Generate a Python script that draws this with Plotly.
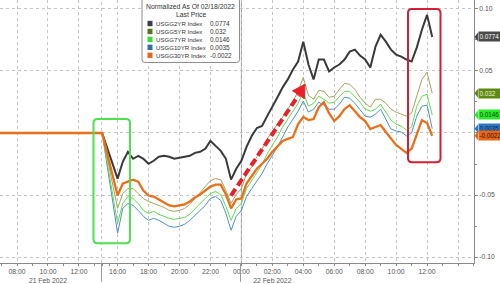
import plotly.graph_objects as go
import pandas as pd

# ---------------- data ----------------
flat_times = ["2022-02-21 06:50", "2022-02-21 13:29", "2022-02-21 15:00"]   # holiday: unchanged vs 02/18
trade_times = pd.date_range("2022-02-21 16:00", periods=62, freq="20min")

series_names = ["USGG2YR Index", "USGG5YR Index", "USGG7YR Index", "USGG10YR Index", "USGG30YR Index"]
last_prices = ["0.0774", "0.032", "0.0146", "0.0035", "-0.0022"]

usgg2 = [-0.0368, -0.0232, -0.0152, -0.0208, -0.0184, -0.0208, -0.0248, -0.0224, -0.0192, -0.0184,
         -0.0192, -0.0208, -0.0200, -0.0192, -0.0184, -0.0160, -0.0152, -0.0128, -0.0064, -0.0104,
         -0.0144, -0.0208, -0.0376, -0.0288, -0.0224, -0.0112, -0.0024, 0.0040, 0.0056, 0.0136,
         0.0208, 0.0288, 0.0368, 0.0432, 0.0512, 0.0576, 0.0736, 0.0552, 0.0432, 0.0592,
         0.0592, 0.0496, 0.0528, 0.0552, 0.0592, 0.0656, 0.0672, 0.0624, 0.0592, 0.0528,
         0.0696, 0.0792, 0.0736, 0.0672, 0.0632, 0.0616, 0.0592, 0.0576, 0.0688, 0.0832,
         0.0952, 0.0774]
usgg5 = [-0.0608, -0.0488, -0.0448, -0.0448, -0.0488, -0.0528, -0.0552, -0.0568, -0.0584, -0.0600,
         -0.0624, -0.0632, -0.0624, -0.0608, -0.0576, -0.0528, -0.0488, -0.0432, -0.0384, -0.0368,
         -0.0376, -0.0464, -0.0568, -0.0496, -0.0448, -0.0328, -0.0272, -0.0192, -0.0128, -0.0048,
         0.0016, 0.0072, 0.0128, 0.0192, 0.0256, 0.0336, 0.0448, 0.0304, 0.0272, 0.0344,
         0.0336, 0.0288, 0.0296, 0.0352, 0.0400, 0.0392, 0.0352, 0.0288, 0.0240, 0.0208,
         0.0272, 0.0272, 0.0240, 0.0192, 0.0168, 0.0152, 0.0136, 0.0160, 0.0296, 0.0432,
         0.0488, 0.0320]
usgg7 = [-0.0728, -0.0568, -0.0512, -0.0528, -0.0568, -0.0624, -0.0648, -0.0632, -0.0656, -0.0672,
         -0.0688, -0.0696, -0.0688, -0.0680, -0.0656, -0.0608, -0.0568, -0.0528, -0.0488, -0.0472,
         -0.0496, -0.0592, -0.0704, -0.0608, -0.0568, -0.0448, -0.0384, -0.0328, -0.0256, -0.0168,
         -0.0104, -0.0032, 0.0048, 0.0112, 0.0176, 0.0240, 0.0328, 0.0216, 0.0240, 0.0296,
         0.0272, 0.0240, 0.0248, 0.0288, 0.0336, 0.0336, 0.0296, 0.0248, 0.0192, 0.0176,
         0.0192, 0.0232, 0.0168, 0.0104, 0.0072, 0.0056, 0.0024, 0.0048, 0.0216, 0.0296,
         0.0312, 0.0146]
usgg10 = [-0.0808, -0.0608, -0.0568, -0.0584, -0.0624, -0.0672, -0.0704, -0.0688, -0.0704, -0.0728,
          -0.0752, -0.0760, -0.0752, -0.0736, -0.0704, -0.0664, -0.0624, -0.0584, -0.0528, -0.0512,
          -0.0544, -0.0648, -0.0784, -0.0672, -0.0624, -0.0512, -0.0448, -0.0384, -0.0328, -0.0248,
          -0.0184, -0.0112, -0.0032, 0.0048, 0.0112, 0.0176, 0.0256, 0.0168, 0.0192, 0.0248,
          0.0224, 0.0192, 0.0192, 0.0232, 0.0288, 0.0280, 0.0240, 0.0192, 0.0136, 0.0128,
          0.0152, 0.0192, 0.0112, 0.0032, 0.0016, 0.0008, -0.0024, 0.0000, 0.0136, 0.0216,
          0.0224, 0.0035]
usgg30 = [-0.0504, -0.0408, -0.0392, -0.0376, -0.0392, -0.0464, -0.0504, -0.0512, -0.0536, -0.0560,
          -0.0584, -0.0592, -0.0584, -0.0576, -0.0552, -0.0520, -0.0496, -0.0464, -0.0432, -0.0416,
          -0.0416, -0.0496, -0.0608, -0.0536, -0.0528, -0.0408, -0.0352, -0.0288, -0.0248, -0.0208,
          -0.0152, -0.0104, -0.0064, -0.0048, -0.0032, 0.0072, 0.0128, 0.0104, 0.0112, 0.0208,
          0.0248, 0.0160, 0.0096, 0.0136, 0.0192, 0.0224, 0.0176, 0.0128, 0.0096, 0.0032,
          0.0048, 0.0064, 0.0008, -0.0048, -0.0096, -0.0128, -0.0160, -0.0128, -0.0008, 0.0104,
          0.0080, -0.0022]
flat_values = [0.0, 0.0, 0.0]

x_tick_times = ["2022-02-21 08:00", "2022-02-21 10:00", "2022-02-21 12:00", "2022-02-21 16:00",
                "2022-02-21 18:00", "2022-02-21 20:00", "2022-02-21 22:00", "2022-02-22 00:00",
                "2022-02-22 02:00", "2022-02-22 04:00", "2022-02-22 06:00", "2022-02-22 08:00",
                "2022-02-22 10:00", "2022-02-22 12:00", "2022-02-22 14:00"]
x_tick_labels = ["08:00", "10:00<br>21 Feb 2022", "12:00", "16:00", "18:00", "20:00", "22:00", "00:00",
                 "02:00<br>22 Feb 2022", "04:00", "06:00", "08:00", "10:00", "12:00", ""]
y_tick_vals = [-0.10, -0.05, 0.0, 0.05, 0.10]
y_tick_labels = ["-0.10", "-0.05", "", "0.05", "0.10"]

# ---------------- styles ----------------
FONT = "Liberation Sans, Arial, sans-serif"
line_colors = ["#3a3a3a", "#a6a35e", "#62dc50", "#4f8fcc", "#e8701a"]
line_widths = [2.0, 1.0, 1.0, 1.0, 2.3]
swatch_colors = ["#3c3c4a", "#55761a", "#33e033", "#2c70aa", "#e8641a"]
tag_colors = ["#4a4a4a", "#5e8a14", "#27ec27", "#2f78c0", "#e8661a"]
tag_text_colors = ["#ffffff", "#eef4d8", "#0a3a0a", "#0b2440", "#2a1000"]

PW, PH = 474, 265            # plot area in px
W, H = 500, 284
Y_RANGE = [-0.1048, 0.1072]

def px_to_paper(px, py):
    return px / PW, 1 - py / PH

def rrect_path(x0, y0, x1, y1, r):
    def P(px, py):
        a, b = px_to_paper(px, py)
        return f"{a:.5f},{b:.5f}"
    return (f"M {P(x0 + r, y0)} L {P(x1 - r, y0)} Q {P(x1, y0)} {P(x1, y0 + r)} "
            f"L {P(x1, y1 - r)} Q {P(x1, y1)} {P(x1 - r, y1)} L {P(x0 + r, y1)} "
            f"Q {P(x0, y1)} {P(x0, y1 - r)} L {P(x0, y0 + r)} Q {P(x0, y0)} {P(x0 + r, y0)} Z")

series = [usgg2, usgg5, usgg7, usgg10, usgg30]
x_all = list(pd.to_datetime(flat_times)) + list(trade_times)

fig = go.Figure()
for i in [3, 2, 1, 0, 4]:
    fig.add_trace(go.Scatter(
        x=x_all, y=flat_values + series[i], mode="lines", name=series_names[i],
        line=dict(color=line_colors[i], width=line_widths[i]), hoverinfo="skip"))

shapes = []
annotations = []

# day separator at midnight
shapes.append(dict(type="line", xref="x", yref="paper", x0="2022-02-22 00:00", x1="2022-02-22 00:00",
                   y0=0, y1=1, line=dict(color="#9a9a9a", width=1), layer="below"))
# session-gap marker
gx, _ = px_to_paper(101.5, 0)
shapes.append(dict(type="line", xref="paper", yref="paper", x0=gx, x1=gx, y0=0, y1=1,
                   line=dict(color="#c4c4c4", width=1, dash="dot"), layer="below"))
shapes.append(dict(type="line", xref="paper", yref="paper", x0=gx, x1=gx, y0=0, y1=-19 / PH,
                   line=dict(color="#9a9a9a", width=1)))
shapes.append(dict(type="line", xref="paper", yref="paper", x0=240.5 / PW, x1=240.5 / PW, y0=0, y1=-19 / PH,
                   line=dict(color="#9a9a9a", width=1)))

# highlight boxes
shapes.append(dict(type="path", xref="paper", yref="paper", path=rrect_path(93.5, 120, 130, 245, 4),
                   line=dict(color="#4fe04f", width=2), layer="above"))
shapes.append(dict(type="path", xref="paper", yref="paper", path=rrect_path(408, 9, 440.5, 163.5, 4),
                   line=dict(color="#d42035", width=2), layer="above"))

# dashed red arrow
ax0, ay0 = px_to_paper(231, 197)
ax1, ay1 = px_to_paper(298.5, 96)
shapes.append(dict(type="line", xref="paper", yref="paper", x0=ax0, y0=ay0, x1=ax1, y1=ay1,
                   line=dict(color="#e8202a", width=4, dash="8px,4px"), layer="above"))
head = [px_to_paper(305, 85), px_to_paper(304.5, 99.5), px_to_paper(292.5, 91.5)]
shapes.append(dict(type="path", xref="paper", yref="paper",
                   path="M " + " L ".join(f"{a:.5f},{b:.5f}" for a, b in head) + " Z",
                   fillcolor="#e8202a", line=dict(color="#e8202a", width=1), layer="above"))

# legend box
shapes.append(dict(type="path", xref="paper", yref="paper", path=rrect_path(142, -2, 239.5, 63, 3),
                   fillcolor="rgba(255,255,255,0.95)", line=dict(color="#8c8c8c", width=1), layer="above"))
tx, ty = px_to_paper(190.5, 7)
annotations.append(dict(xref="paper", yref="paper", x=tx, y=ty, text="Normalized As Of 02/18/2022",
                        showarrow=False, xanchor="center", yanchor="middle",
                        font=dict(family=FONT, size=6.8, color="#333")))
tx, ty = px_to_paper(190.5, 15)
annotations.append(dict(xref="paper", yref="paper", x=tx, y=ty, text="Last Price",
                        showarrow=False, xanchor="center", yanchor="middle",
                        font=dict(family=FONT, size=6.8, color="#333")))
for i, name in enumerate(series_names):
    ry = 23.7 + 8 * i
    sx0, sy0 = px_to_paper(147.5, ry - 2.7)
    sx1, sy1 = px_to_paper(152.5, ry + 2.7)
    shapes.append(dict(type="rect", xref="paper", yref="paper", x0=sx0, x1=sx1, y0=sy1, y1=sy0,
                       fillcolor=swatch_colors[i], line=dict(width=0), layer="above"))
    nx, ny = px_to_paper(153.5, ry)
    annotations.append(dict(xref="paper", yref="paper", x=nx, y=ny, text=name, showarrow=False,
                            xanchor="left", yanchor="middle", font=dict(family=FONT, size=6.1, color="#333")))
    vx, vy = px_to_paper(208, ry)
    annotations.append(dict(xref="paper", yref="paper", x=vx, y=vy, text=last_prices[i], showarrow=False,
                            xanchor="left", yanchor="middle", font=dict(family=FONT, size=6.4, color="#333")))

# last-price tags on the right axis
unit = (Y_RANGE[1] - Y_RANGE[0]) / PH
for i in [0, 1, 2, 3, 4]:
    v = float(last_prices[i])
    half = 4.5 * unit
    p0 = 474.5 / PW
    p1 = 478.0 / PW
    shapes.append(dict(type="path", xref="paper", yref="y",
                       path=f"M {p0:.5f},{v:.5f} L {p1:.5f},{v + half:.5f} L {p1:.5f},{v - half:.5f} Z",
                       fillcolor=tag_colors[i], line=dict(width=0), layer="above"))
    annotations.append(dict(xref="paper", yref="y", x=1, y=v, xshift=3.5, text=last_prices[i],
                            showarrow=False, xanchor="left", yanchor="middle", align="left",
                            width=22, height=8, borderpad=0.5, bgcolor=tag_colors[i],
                            font=dict(family=FONT, size=6.3, color=tag_text_colors[i])))

fig.update_layout(
    width=W, height=H, margin=dict(l=0, r=W - PW, t=0, b=H - PH),
    paper_bgcolor="white", plot_bgcolor="white", showlegend=False,
    font=dict(family=FONT, size=6.8, color="#555"),
    shapes=shapes, annotations=annotations,
)
fig.update_xaxes(
    type="date", range=["2022-02-21 06:54", "2022-02-22 15:02"],
    rangebreaks=[dict(values=["2022-02-21 13:30"], dvalue=90 * 60 * 1000)],
    tickmode="array", tickvals=x_tick_times, ticktext=x_tick_labels, tickangle=0,
    showgrid=True, gridcolor="#c4c4c4", griddash="dot", gridwidth=1,
    showline=True, linecolor="#8a8a8a", linewidth=1, zeroline=False,
    ticks="outside", ticklen=2, tickcolor="#8a8a8a",
    tickfont=dict(family=FONT, size=6.8, color="#555"),
    minor=dict(tickmode="linear", tick0="2022-02-21 07:00", dtick=3600000, ticks="outside",
               ticklen=2, tickcolor="#8a8a8a", showgrid=False),
)
fig.update_yaxes(
    side="right", range=Y_RANGE, tickmode="array", tickvals=y_tick_vals, ticktext=y_tick_labels,
    showgrid=True, gridcolor="#c4c4c4", griddash="dot", gridwidth=1, zeroline=False,
    showline=True, linecolor="#8a8a8a", linewidth=1,
    ticks="outside", ticklen=3, tickcolor="#8a8a8a",
    tickfont=dict(family=FONT, size=6.8, color="#555"),
    minor=dict(tickmode="array", tickvals=[-0.075, -0.025, 0.025, 0.075], ticks="outside",
               ticklen=2, tickcolor="#8a8a8a", showgrid=False),
)

fig.write_html("out.html")
